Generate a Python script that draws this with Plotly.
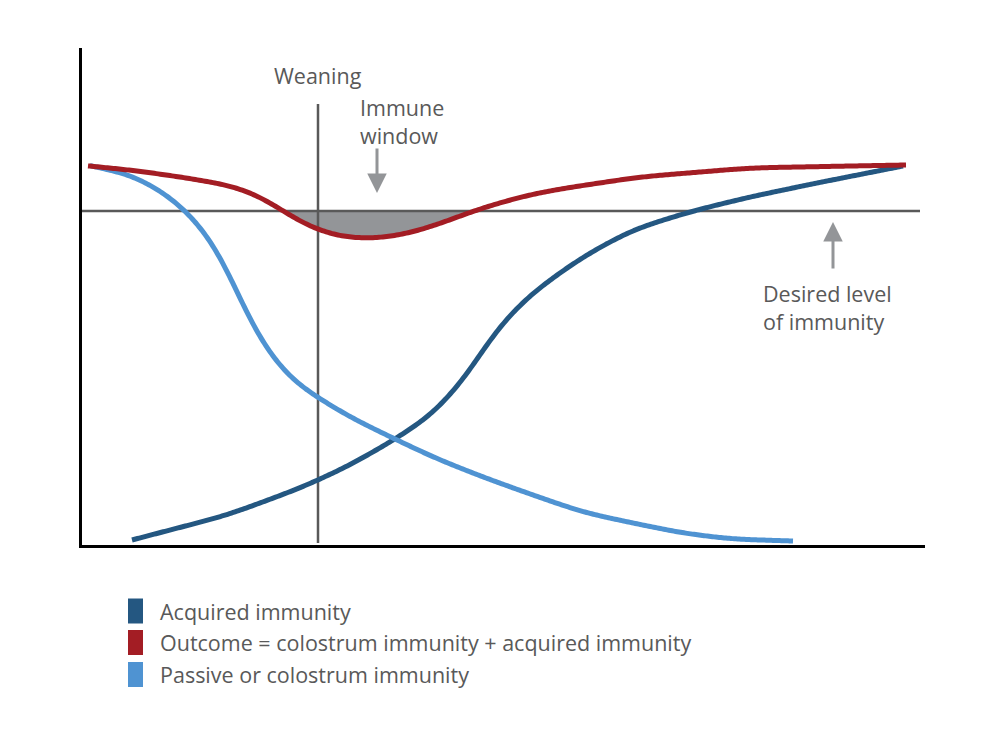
import numpy as np
import plotly.graph_objects as go

# Valores (unidades arbitrarias: edad 0-843, resistencia 0-497)
acquired_age = [50, 145, 218, 268, 311, 351, 388, 411, 451, 501, 551, 611, 668, 735, 821]
acquired_res = [5, 30, 57, 80, 105, 132, 173, 212, 252, 288, 315, 334, 348, 362, 379]

outcome_age = [6, 48, 98, 148, 178, 198, 218, 238, 258, 285, 311, 338, 365, 391, 418, 451, 491,
               525, 558, 668, 768, 824]
outcome_res = [379, 375, 368, 359, 349, 336, 323, 315, 309, 307, 309, 315, 324, 334, 342, 351, 358,
               363, 368, 377, 379, 380]

passive_age = [8, 48, 81, 105, 128, 145, 155, 171, 191, 215, 238, 268, 311, 351, 401, 451, 501,
               551, 601, 651, 711]
passive_res = [379, 370, 352, 332, 305, 278, 252, 218, 188, 162, 147, 128, 107, 88, 68, 50, 33,
               22, 12, 6, 4]

desired_level = 334
weaning_age = 236
weaning_top = 441
age_max = 843
res_max = 497

series_names = ["Acquired immunity",
                "Outcome = colostrum immunity + acquired immunity",
                "Passive or colostrum immunity"]
series_colors = ["#245781", "#A31D24", "#4F93D2"]

txt_gray = "#595959"
arrow_gray = "#939598"
font_fam = "Open Sans"
fsize = 21.5


def smooth_curve(x, y, n=420, lam=3000.0):
    # trazo suave a partir de los puntos leídos (suavizado de Whittaker)
    xs = np.linspace(x[0], x[-1], n)
    ys = np.interp(xs, x, y)
    D = np.diff(np.eye(n), 2, axis=0)
    zs = np.linalg.solve(np.eye(n) + lam * D.T @ D, ys)
    return xs, zs


acq_x, acq_y = smooth_curve(acquired_age, acquired_res)
out_x, out_y = smooth_curve(outcome_age, outcome_res)
pas_x, pas_y = smooth_curve(passive_age, passive_res)

fig = go.Figure()

# Ventana inmune: zona del resultado bajo el nivel deseado
below = out_y < desired_level
fill_x = np.concatenate([[out_x[below][0]], out_x[below], [out_x[below][-1]]])
fill_y = np.concatenate([[desired_level], out_y[below], [desired_level]])
fig.add_trace(go.Scatter(x=fill_x, y=fill_y, mode="lines", fill="toself",
                         fillcolor=arrow_gray, line=dict(width=0, simplify=False),
                         showlegend=False, hoverinfo="skip"))

# Nivel deseado y destete
fig.add_trace(go.Scatter(x=[0, age_max - 5], y=[desired_level, desired_level], mode="lines",
                         line=dict(color=txt_gray, width=2.5), showlegend=False, hoverinfo="skip"))
fig.add_trace(go.Scatter(x=[weaning_age, weaning_age], y=[2, weaning_top], mode="lines",
                         line=dict(color=txt_gray, width=2.5), showlegend=False, hoverinfo="skip"))

# Curvas
fig.add_trace(go.Scatter(x=acq_x, y=acq_y, mode="lines", name=series_names[0],
                         line=dict(color=series_colors[0], width=5, simplify=False)))
fig.add_trace(go.Scatter(x=pas_x, y=pas_y, mode="lines", name=series_names[2],
                         line=dict(color=series_colors[2], width=5, simplify=False)))
fig.add_trace(go.Scatter(x=out_x, y=out_y, mode="lines", name=series_names[1],
                         line=dict(color=series_colors[1], width=5, simplify=False)))

annotations = [
    dict(x=weaning_age, y=470, text="Weaning", showarrow=False, xanchor="center", yanchor="middle",
         font=dict(size=fsize, color=txt_gray)),
    dict(x=276, y=424, text="Immune<br>window", showarrow=False, xanchor="left", yanchor="middle",
         align="left", font=dict(size=fsize, color=txt_gray)),
    dict(x=295, y=352, ax=295, ay=398, axref="x", ayref="y", text="", showarrow=True,
         arrowhead=2, arrowsize=1.3, arrowwidth=3, arrowcolor=arrow_gray),
    dict(x=751, y=323, ax=751, ay=275, axref="x", ayref="y", text="", showarrow=True,
         arrowhead=2, arrowsize=1.3, arrowwidth=3, arrowcolor=arrow_gray),
    dict(x=679, y=238, text="Desired level<br>of immunity", showarrow=False, xanchor="left",
         yanchor="middle", align="left", font=dict(size=fsize, color=txt_gray)),
    dict(x=828, y=-33, text="Age (weeks)", showarrow=False, xanchor="right", yanchor="middle",
         font=dict(size=fsize, color="black")),
    dict(x=-37, y=89, text="Disease resistance", showarrow=False, textangle=-90,
         xanchor="center", yanchor="middle", font=dict(size=fsize, color="black")),
]

# Leyenda manual con rectángulos
shapes = []
legend_rows = [611, 642.5, 674.5]
for name, color, row in zip(series_names, series_colors, legend_rows):
    yc = (545 - row) / res_max
    shapes.append(dict(type="rect", xref="paper", yref="paper",
                       x0=(128 - 82) / age_max, x1=(143 - 82) / age_max,
                       y0=yc - 12.5 / res_max, y1=yc + 12.5 / res_max,
                       fillcolor=color, line=dict(width=0)))
    annotations.append(dict(xref="paper", yref="paper", x=(158 - 82) / age_max, y=yc,
                            text=name, showarrow=False, xanchor="left", yanchor="middle",
                            font=dict(size=fsize, color=txt_gray)))

fig.update_layout(
    width=992, height=727,
    margin=dict(l=74, r=75, t=40, b=190),
    plot_bgcolor="white", paper_bgcolor="white",
    font=dict(family=font_fam),
    showlegend=False,
    xaxis=dict(range=[0, age_max], showgrid=False, zeroline=False, showticklabels=False,
               ticks="", showline=True, linecolor="black", linewidth=3),
    yaxis=dict(range=[0, res_max], showgrid=False, zeroline=False, showticklabels=False,
               ticks="", showline=True, linecolor="black", linewidth=3),
    annotations=annotations,
    shapes=shapes,
)

fig.write_html("out.html")
